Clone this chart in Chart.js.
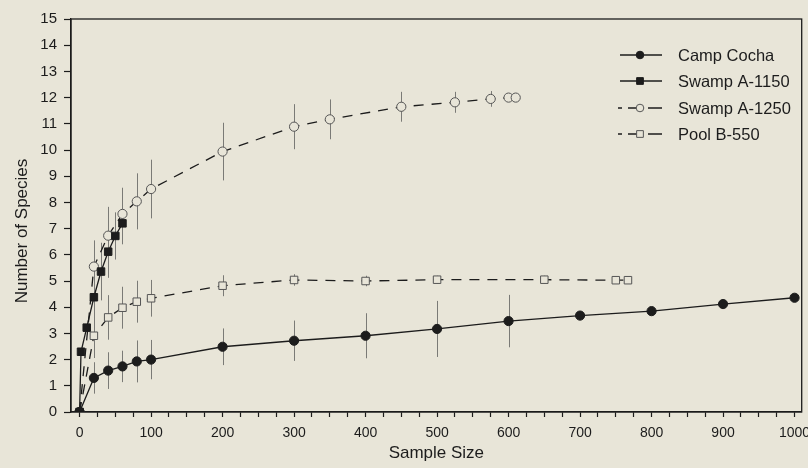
<!DOCTYPE html>
<html>
<head>
<meta charset="utf-8">
<script src="https://cdn.jsdelivr.net/npm/chart.js@4"></script>
<style>
  body { margin: 0; background: #e8e5d8; }
  #wrap { width: 808px; height: 468px; }
</style>
</head>
<body>
<div id="wrap"><canvas id="c" width="808" height="468"></canvas></div>
<script>
// Datos (x = tamaño de muestra, y = número de especies, err = +/- barra)
const campX = [0, 20, 40, 60, 80, 100, 200, 300, 400, 500, 600, 700, 800, 900, 1000];
const campY = [0, 1.3, 1.58, 1.74, 1.93, 2.0, 2.49, 2.72, 2.91, 3.17, 3.47, 3.68, 3.85, 4.12, 4.36];
const campErr = [null, 0.6, 0.7, 0.6, 0.8, 0.75, 0.7, 0.77, 0.86, 1.07, 1.0, null, null, null, null];

const sw1150X = [0, 2, 10, 20, 30, 40, 50, 60];
const sw1150Y = [0, 2.3, 3.22, 4.38, 5.36, 6.12, 6.72, 7.2];
const sw1150Err = [null, null, null, 0.8, 1.1, 1.0, 0.9, 0.8];

const sw1250X = [0, 20, 40, 60, 80, 100, 200, 300, 350, 450, 525, 575, 600, 610];
const sw1250Y = [0, 5.55, 6.73, 7.56, 8.04, 8.51, 9.94, 10.89, 11.17, 11.65, 11.82, 11.95, 12.0, 12.0];
const sw1250Err = [null, 1.0, 1.1, 1.0, 1.07, 1.12, 1.1, 0.86, 0.76, 0.57, 0.4, 0.3, null, null];

const poolX = [0, 20, 40, 60, 80, 100, 200, 300, 400, 500, 650, 750, 767];
const poolY = [0, 2.91, 3.61, 3.98, 4.21, 4.34, 4.82, 5.04, 5.0, 5.05, 5.05, 5.03, 5.03];
const poolErr = [null, 0.85, 0.85, 0.8, 0.8, 0.7, 0.4, 0.22, 0.2, 0.15, 0.15, null, null];

const seriesNames = ['Camp Cocha', 'Swamp A-1150', 'Swamp A-1250', 'Pool B-550'];
const xTickLabels = [0, 100, 200, 300, 400, 500, 600, 700, 800, 900, 1000];

const BG = '#e8e5d8';
const INK = '#1c1c1c';
const FONT = '"Liberation Sans", Arial, sans-serif';

function pts(xs, ys) {
    return xs.map((x, i) => ({ x: x, y: ys[i] }));
}

const errors = [campErr, sw1150Err, sw1250Err, poolErr];

// Barras de error (dibujadas antes de las series para que los marcadores queden encima)
const errorBars = {
    id: 'errorBars',
    beforeDatasetsDraw(chart) {
        const ctx = chart.ctx;
        const yScale = chart.scales.y;
        ctx.save();
        ctx.strokeStyle = '#7a7a76';
        ctx.lineWidth = 1;
        chart.data.datasets.forEach((ds, di) => {
            const meta = chart.getDatasetMeta(di);
            errors[di].forEach((e, i) => {
                if (e == null) return;
                const p = meta.data[i];
                const v = ds.data[i].y;
                ctx.beginPath();
                ctx.moveTo(Math.round(p.x) + 0.5, yScale.getPixelForValue(v + e));
                ctx.lineTo(Math.round(p.x) + 0.5, yScale.getPixelForValue(v - e));
                ctx.stroke();
            });
        });
        ctx.restore();
    }
};

// Marco, título del eje Y y leyenda
const frameLegend = {
    id: 'frameLegend',
    afterDraw(chart) {
        const ctx = chart.ctx;
        const a = chart.chartArea;
        ctx.save();
        ctx.strokeStyle = INK;
        ctx.lineWidth = 1.3;
        ctx.strokeRect(a.left, a.top, a.right - a.left, a.bottom - a.top);

        // título Y (un poco por debajo del centro, como en el original)
        ctx.save();
        ctx.translate(22, 231);
        ctx.rotate(-Math.PI / 2);
        ctx.fillStyle = INK;
        ctx.font = '17px ' + FONT;
        ctx.textAlign = 'center';
        ctx.textBaseline = 'middle';
        ctx.fillText('Number of Species', 0, 0);
        ctx.restore();

        const rows = [55, 81, 108, 134];
        chart.data.datasets.forEach((ds, i) => {
            const y = rows[i];
            ctx.strokeStyle = INK;
            ctx.lineWidth = 1.3;
            ctx.beginPath();
            if (ds.borderDash && ds.borderDash.length) {
                ctx.moveTo(618, y); ctx.lineTo(622, y);
                ctx.moveTo(628, y); ctx.lineTo(640, y);
                ctx.moveTo(648, y); ctx.lineTo(662, y);
            } else {
                ctx.moveTo(620, y); ctx.lineTo(662, y);
            }
            ctx.stroke();
            const r = ds.pointStyle === 'rect' ? 4.2 : 3.8;
            ctx.fillStyle = ds.pointBackgroundColor;
            ctx.strokeStyle = ds.pointBorderColor;
            ctx.lineWidth = 1;
            ctx.beginPath();
            if (ds.pointStyle === 'rect') {
                ctx.rect(640 - r * 0.8, y - r * 0.8, r * 1.6, r * 1.6);
            } else {
                ctx.arc(640, y, r, 0, Math.PI * 2);
            }
            ctx.fill();
            ctx.stroke();
            ctx.fillStyle = INK;
            ctx.font = '16.5px ' + FONT;
            ctx.textBaseline = 'middle';
            ctx.fillText(ds.label, 678, y + 1);
        });
        ctx.restore();
    }
};

function series(label, data, style, filled, dashed, r) {
    return {
        label: label,
        data: data,
        borderColor: INK,
        borderWidth: 1.3,
        borderDash: dashed ? [10, 8] : [],
        pointStyle: style,
        pointRadius: r,
        pointBackgroundColor: filled ? INK : BG,
        pointBorderColor: filled ? INK : '#555',
        pointBorderWidth: 1,
        fill: false,
        tension: 0
    };
}

new Chart(document.getElementById('c'), {
    type: 'line',
    data: {
        datasets: [
            series(seriesNames[0], pts(campX, campY), 'circle', true, false, 4.6),
            series(seriesNames[1], pts(sw1150X, sw1150Y), 'rect', true, false, 5.3),
            series(seriesNames[2], pts(sw1250X, sw1250Y), 'circle', false, true, 4.6),
            series(seriesNames[3], pts(poolX, poolY), 'rect', false, true, 5.3)
        ]
    },
    options: {
        responsive: false,
        animation: false,
        layout: { padding: { top: 19, right: 6, left: 0, bottom: 0 } },
        plugins: { legend: { display: false }, tooltip: { enabled: false } },
        scales: {
            x: {
                type: 'linear',
                min: -12,
                max: 1010,
                afterBuildTicks(scale) {
                    const t = [];
                    for (let v = 0; v <= 1000; v += 25) t.push({ value: v });
                    scale.ticks = t;
                },
                afterFit(scale) {
                    scale.height = 56;
                    scale.paddingLeft = 0;
                    scale.paddingRight = 0;
                },
                ticks: {
                    autoSkip: false,
                    maxRotation: 0,
                    padding: 8,
                    color: INK,
                    font: { family: FONT, size: 14 },
                    callback: v => xTickLabels.includes(v) ? String(v) : ''
                },
                grid: { drawOnChartArea: false, tickLength: 5, color: INK, tickWidth: 1.2 },
                border: { color: INK, width: 1.3 },
                title: {
                    display: true,
                    text: 'Sample Size',
                    color: INK,
                    font: { family: FONT, size: 17 },
                    padding: { top: 6 }
                }
            },
            y: {
                min: 0,
                max: 15,
                afterFit(scale) { scale.width = 71; },
                ticks: {
                    stepSize: 1,
                    padding: 7,
                    color: INK,
                    font: { family: FONT, size: 15 }
                },
                grid: { drawOnChartArea: false, tickLength: 7, color: INK, tickWidth: 1.2 },
                border: { color: INK, width: 1.3 },
                title: { display: false }
            }
        }
    },
    plugins: [errorBars, frameLegend]
});
</script>
</body>
</html>
